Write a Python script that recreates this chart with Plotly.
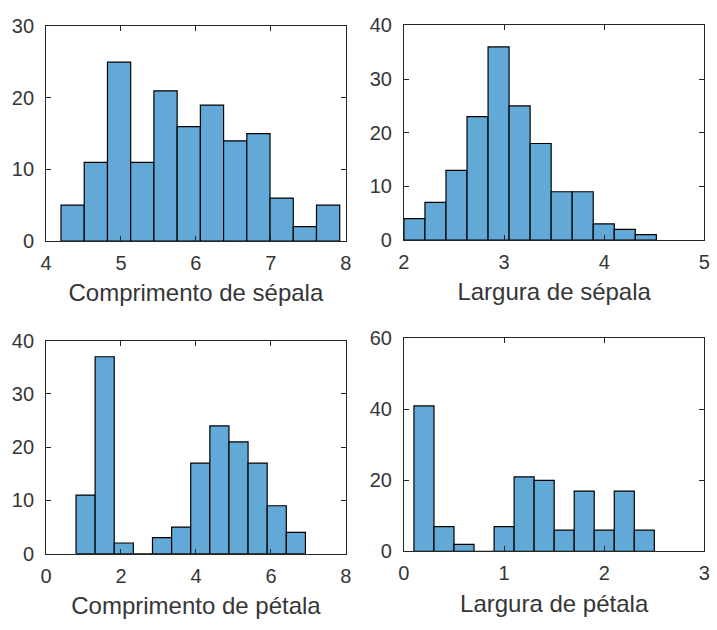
import plotly.graph_objects as go

# Histogram bin counts for the four iris measurements (12 bins each)
sepal_length_counts = [5, 11, 25, 11, 21, 16, 19, 14, 15, 6, 2, 5]
sepal_width_counts = [4, 7, 13, 23, 36, 25, 18, 9, 9, 3, 2, 1]
petal_length_counts = [11, 37, 2, 0, 3, 5, 17, 24, 21, 17, 9, 4]
petal_width_counts = [41, 7, 2, 0, 7, 21, 20, 6, 17, 6, 17, 6]

# First bin edge and bin width of each histogram
bin_starts = [4.2, 2.0, 0.8, 0.1]
bin_widths = [0.31, 0.21, 0.51, 0.2]

x_titles = ["Comprimento de sépala", "Largura de sépala",
            "Comprimento de pétala", "Largura de pétala"]
x_ranges = [[4, 8], [2, 5], [0, 8], [0, 3]]
x_ticks = [[4, 5, 6, 7, 8], [2, 3, 4, 5], [0, 2, 4, 6, 8], [0, 1, 2, 3]]
y_ranges = [[0, 30], [0, 40], [0, 40], [0, 60]]
y_ticks = [[0, 10, 20, 30], [0, 10, 20, 30, 40], [0, 10, 20, 30, 40], [0, 20, 40, 60]]

all_counts = [sepal_length_counts, sepal_width_counts,
              petal_length_counts, petal_width_counts]

W, H = 717, 630
# Axes boxes in pixels: (left, right, top, bottom)
boxes = [(40.7, 345.5, 16.0, 238.3),
         (404.7, 710.3, 15.0, 237.3),
         (40.7, 345.7, 341.7, 562.3),
         (404.7, 710.3, 339.3, 560.0)]

AX = "#262626"
TXT = "#363636"
FILL = "rgb(99,169,215)"
FONT = "Liberation Sans, Arial, sans-serif"

fig = go.Figure()
layout = dict(
    width=W, height=H, autosize=False,
    margin=dict(l=0, r=0, t=0, b=0),
    paper_bgcolor="white", plot_bgcolor="white",
    showlegend=False,
    font=dict(family=FONT, color=TXT),
)

for i in range(4):
    counts = all_counts[i]
    start, bw = bin_starts[i], bin_widths[i]
    centers = [start + bw * (k + 0.5) for k in range(len(counts))]
    xa = "x" if i == 0 else f"x{i+1}"
    ya = "y" if i == 0 else f"y{i+1}"
    fig.add_trace(go.Bar(
        x=centers, y=counts, width=[bw] * len(counts),
        marker=dict(color=FILL, line=dict(color="black", width=1.2)),
        xaxis=xa, yaxis=ya, hoverinfo="x+y",
    ))
    l, r, t, b = boxes[i]
    key = "" if i == 0 else str(i + 1)
    common = dict(
        showline=True, linecolor=AX, linewidth=1, mirror="ticks",
        ticks="inside", ticklen=5, tickcolor=AX, tickwidth=1,
        showgrid=False, zeroline=False,
        tickfont=dict(family=FONT, size=20, color=TXT),
    )
    layout["xaxis" + key] = dict(
        domain=[l / W, r / W], anchor=ya, range=x_ranges[i],
        tickvals=x_ticks[i], ticklabelstandoff=4,
        title=dict(text=x_titles[i], font=dict(family=FONT, size=24, color=TXT), standoff=11),
        **common,
    )
    layout["yaxis" + key] = dict(
        domain=[1 - b / H, 1 - t / H], anchor=xa, range=y_ranges[i],
        tickvals=y_ticks[i], ticklabelstandoff=7,
        **common,
    )

fig.update_layout(**layout)
fig.write_html("out.html")
